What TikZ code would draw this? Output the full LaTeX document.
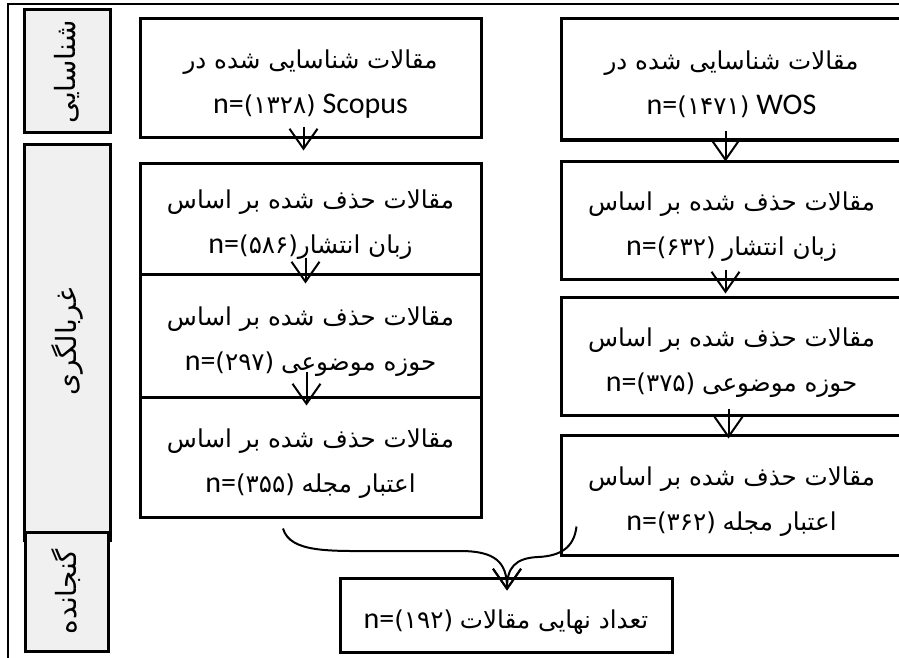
\documentclass[tikz,border=0pt]{standalone}
\usepackage{fontspec}
\setmainfont{Carlito}
\newfontfamily\fa[Script=Arabic,Scale=0.82]{DejaVu Sans}
\TeXXeTstate=1
\usetikzlibrary{arrows.meta}
\definecolor{sidegray}{RGB}{240,240,240}
\newcommand{\fatext}[1]{{\fa\beginR #1\endR}}

\begin{document}
\begin{tikzpicture}[x=1pt, y=-1pt,
    box/.style={draw, line width=3pt, minimum width=341pt, inner sep=0pt, align=center,
      text height=70pt, text depth=0pt, font=\fontsize{30}{45}\selectfont},
    side/.style={draw, line width=3pt, fill=sidegray, inner sep=0pt, rotate=90, font=\fontsize{34}{36}\selectfont},
    flow/.style={-{Straight Barb[length=20pt,width=28pt]}, line width=2pt}]
  \useasboundingbox (0,0) rectangle (899,658);
  \clip (0,0) rectangle (899,658);
  \draw[line width=2pt] (910,4) -- (8,4) -- (8,670);

  % stages on the left
  \node[side, minimum width=123pt, minimum height=86pt] (ident) at (67,71.5) {\fatext{شناسایی}};
  \node[side, minimum width=396pt, minimum height=86pt] (screen) at (67,342) {\fatext{غربالگری}};
  \node[side, minimum width=119pt, minimum height=83pt] (incl) at (66.5,591.5) {\fatext{گنجانده}};

  % Scopus column
  \node[box, minimum height=119pt] (scopus) at (310.5,78.5)
    {\fatext{مقالات شناسایی شده در}\\n={\fa(۱۳۲۸)} Scopus};
  \node[box, minimum height=111pt] (scLang) at (310.5,218.5)
    {\fatext{مقالات حذف شده بر اساس}\\n={\fa(۵۸۶)}\fatext{زبان انتشار}};
  \node[box, minimum height=123pt] (scSubj) at (310.5,335.5)
    {\fatext{مقالات حذف شده بر اساس}\\n={\fa(۲۹۷)} \fatext{حوزه موضوعی}};
  \node[box, minimum height=120pt] (scJour) at (310.5,457)
    {\fatext{مقالات حذف شده بر اساس}\\n={\fa(۳۵۵)} \fatext{اعتبار مجله}};

  % WOS column
  \node[box, minimum height=121pt] (wos) at (731.5,79.5)
    {\fatext{مقالات شناسایی شده در}\\n={\fa(۱۴۷۱)} WOS};
  \node[box, minimum height=118pt] (wosLang) at (731.5,220)
    {\fatext{مقالات حذف شده بر اساس}\\n={\fa(۶۳۲)} \fatext{زبان انتشار}};
  \node[box, minimum height=118pt] (wosSubj) at (731.5,356)
    {\fatext{مقالات حذف شده بر اساس}\\n={\fa(۳۷۵)} \fatext{حوزه موضوعی}};
  \node[box, minimum height=120pt] (wosJour) at (731.5,495)
    {\fatext{مقالات حذف شده بر اساس}\\n={\fa(۳۶۲)} \fatext{اعتبار مجله}};

  % final count
  \node[box, minimum width=332pt, minimum height=74pt, text height=26pt] (final) at (506,615)
    {n={\fa(۱۹۲)} \fatext{تعداد نهایی مقالات}};

  \draw[flow] ([xshift=-7pt,yshift=12pt]scopus.south) -- ([xshift=-7pt,yshift=11pt]scLang.north);
  \draw[flow] ([xshift=-5pt,yshift=18pt]scLang.south) -- ([xshift=-5pt,yshift=-11pt]scSubj.north);
  \draw[flow] ([xshift=-4pt,yshift=27pt]scSubj.south) -- ([xshift=-4pt,yshift=-10pt]scJour.north);
  \draw[flow] ([xshift=-6pt,yshift=10pt]wos.south) -- ([xshift=-6pt,yshift=-2pt]wosLang.north);
  \draw[flow] ([xshift=-6pt,yshift=11pt]wosLang.south) -- ([xshift=-6pt,yshift=2pt]wosSubj.north);
  \draw[flow] ([xshift=-3pt,yshift=8pt]wosSubj.south) -- ([xshift=-3pt,yshift=-5pt]wosJour.north);

  \coordinate (lstart) at ([xshift=-27.5pt,yshift=-10pt]scJour.south);
  \coordinate (rstart) at ([xshift=17pt,yshift=30pt]wosJour.south west);
  \coordinate (merge) at ([xshift=1pt,yshift=-14pt]final.north);
  \draw[flow] (lstart) .. controls (290,553) and (330,551) .. (380,551) -- (460,551)
    .. controls (495,551) and (507,562) .. (merge);
  \draw[flow] (rstart) .. controls (574,548) and (560,556) .. (538,557)
    .. controls (515,558) and (507,568) .. (merge);
\end{tikzpicture}
\end{document}
